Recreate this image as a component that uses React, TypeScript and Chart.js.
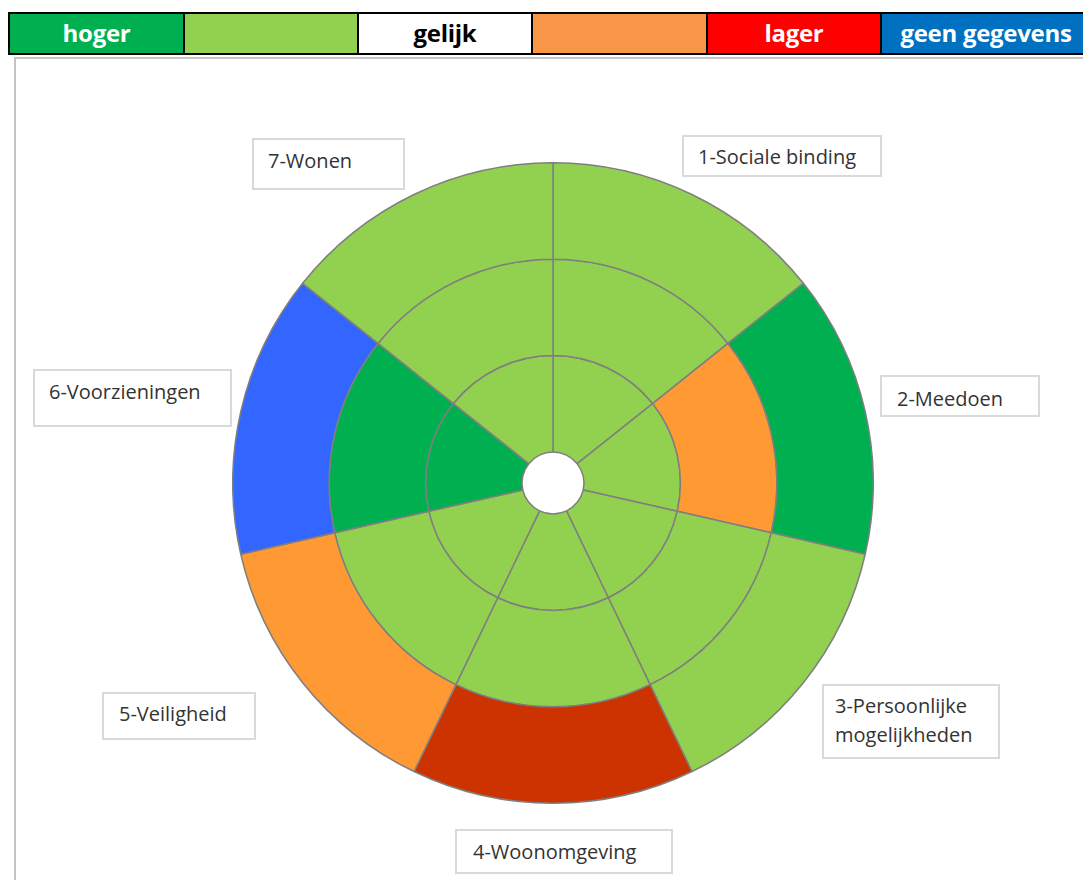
import React, { useEffect, useRef } from "react";
import { Chart, registerables } from "chart.js";

Chart.register(...registerables);

// ---- data ----
const categories = [
  "1-Sociale binding",
  "2-Meedoen",
  "3-Persoonlijke mogelijkheden",
  "4-Woonomgeving",
  "5-Veiligheid",
  "6-Voorzieningen",
  "7-Wonen",
];

// status per category, per ring (outer → inner)
// H = hoger, LH = licht hoger, G = gelijk, LL = licht lager, L = lager, N = geen gegevens
const outerRing = ["LH", "H", "LH", "L", "LL", "N", "LH"];
const middleRing = ["LH", "LL", "LH", "LH", "LH", "H", "LH"];
const innerRing = ["LH", "LH", "LH", "LH", "LH", "H", "LH"];

const sliceValues = [1, 1, 1, 1, 1, 1, 1];

const legendLabels = ["hoger", "", "gelijk", "", "lager", "geen gegevens"];
const legendColors = ["#00B050", "#92D050", "#FFFFFF", "#F79646", "#FF0000", "#0070C0"];
const legendTextColors = ["#FFFFFF", "#FFFFFF", "#000000", "#FFFFFF", "#FFFFFF", "#FFFFFF"];

const statusColors: Record<string, string> = {
  H: "#00B050",
  LH: "#92D050",
  G: "#FFFFFF",
  LL: "#FF9933",
  L: "#CC3300",
  N: "#3366FF",
};

// ---- label box layout (page coordinates) ----
const labelBoxes = [
  { x: 682, y: 135, w: 200, h: 42, tx: 698, ty: 148 },
  { x: 880, y: 375, w: 160, h: 42, tx: 897, ty: 390 },
  { x: 822, y: 684, w: 178, h: 75, tx: 835, ty: 697 },
  { x: 455, y: 829, w: 218, h: 45, tx: 473, ty: 843 },
  { x: 102, y: 692, w: 154, h: 48, tx: 119, ty: 705 },
  { x: 33, y: 369, w: 199, h: 58, tx: 49, ty: 383 },
  { x: 252, y: 138, w: 153, h: 52, tx: 268, ty: 152 },
];
const labelLines = [
  ["1-Sociale binding"],
  ["2-Meedoen"],
  ["3-Persoonlijke", "mogelijkheden"],
  ["4-Woonomgeving"],
  ["5-Veiligheid"],
  ["6-Voorzieningen"],
  ["7-Wonen"],
];

const legendWidths = [175, 174, 174, 175, 174, 210];

function Wheel() {
  const ref = useRef<HTMLCanvasElement | null>(null);
  useEffect(() => {
    if (!ref.current) return;
    const mk = (ring: string[]) => ({
      data: sliceValues,
      backgroundColor: ring.map((s) => statusColors[s]),
      borderColor: "#7F7F7F",
      borderWidth: 1.5,
    });
    const chart = new Chart(ref.current, {
      type: "doughnut",
      data: {
        labels: categories,
        datasets: [mk(outerRing), mk(middleRing), mk(innerRing)],
      },
      options: {
        responsive: false,
        animation: false,
        cutout: 31,
        plugins: { legend: { display: false }, tooltip: { enabled: false } },
      },
    });
    return () => chart.destroy();
  }, []);
  return (
    <canvas
      ref={ref}
      width={642}
      height={642}
      style={{ position: "absolute", left: 232, top: 162, width: 642, height: 642 }}
    />
  );
}

export default function App() {
  return (
    <div
      style={{
        position: "absolute",
        left: 0,
        top: 0,
        width: 1083,
        height: 880,
        overflow: "hidden",
        background: "#fff",
      }}
    >
      {/* legend bar */}
      <div
        style={{
          position: "absolute",
          left: 8,
          top: 12,
          height: 43,
          display: "flex",
          background: "#000",
          padding: 2,
          gap: 2,
          boxSizing: "border-box",
        }}
      >
        {legendLabels.map((t, i) => (
          <div
            key={i}
            style={{
              width: legendWidths[i] - 2,
              height: 39,
              background: legendColors[i],
              color: legendTextColors[i],
              fontFamily: "'Open Sans', sans-serif",
              fontWeight: 700,
              fontSize: 24,
              lineHeight: "37px",
              textAlign: "center",
              whiteSpace: "nowrap",
              letterSpacing: -0.3,
            }}
          >
            {t}
          </div>
        ))}
      </div>
      {/* frame */}
      <div
        style={{
          position: "absolute",
          left: 14,
          top: 57,
          width: 1200,
          height: 1000,
          borderTop: "2px solid #c4c4c4",
          borderLeft: "2px solid #c4c4c4",
        }}
      />
      <Wheel />
      {labelBoxes.map((b, i) => (
        <React.Fragment key={i}>
          <div
            style={{
              position: "absolute",
              left: b.x,
              top: b.y,
              width: b.w,
              height: b.h,
              boxSizing: "border-box",
              border: "2px solid #d9d9d9",
              background: "#fff",
            }}
          />
          <div
            style={{
              position: "absolute",
              left: b.tx,
              top: b.ty - 6,
              fontFamily: "'Open Sans', sans-serif",
              fontSize: 20,
              lineHeight: "29px",
              color: "#333",
              whiteSpace: "nowrap",
            }}
          >
            {labelLines[i].map((l, j) => (
              <div key={j}>{l}</div>
            ))}
          </div>
        </React.Fragment>
      ))}
    </div>
  );
}
